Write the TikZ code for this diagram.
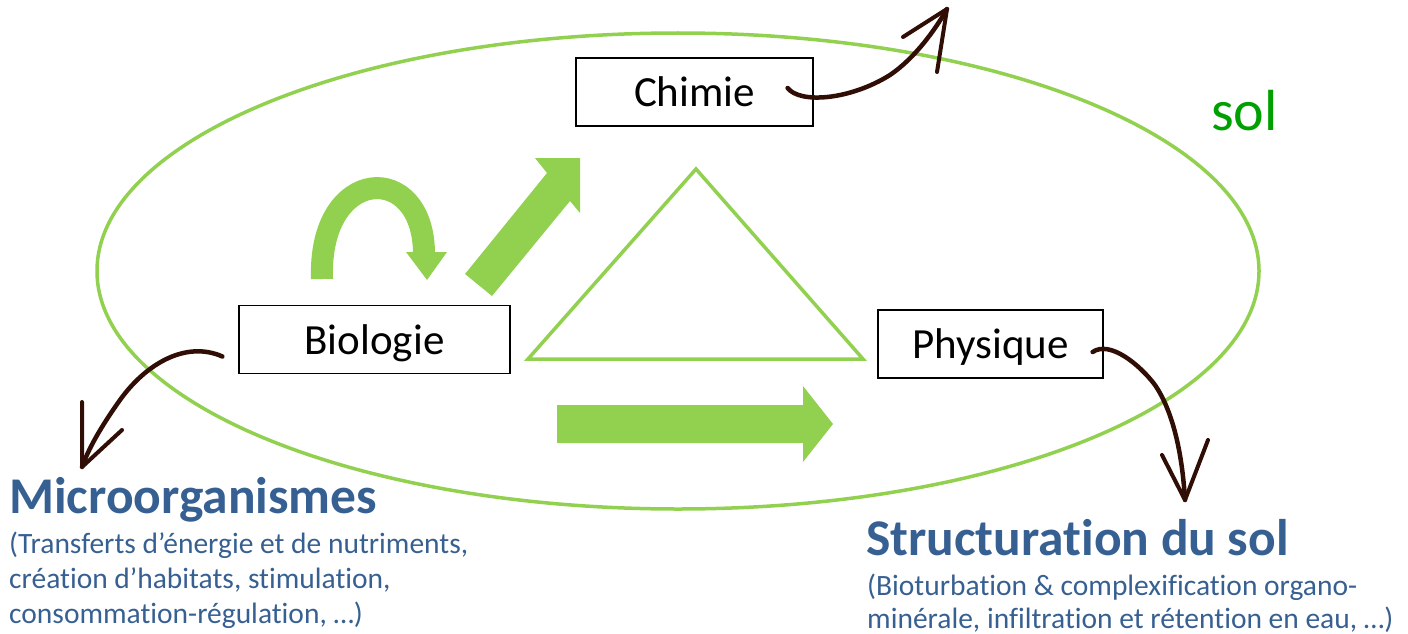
\documentclass[tikz,border=0pt]{standalone}
\usepackage{fontspec}
\setmainfont{Carlito}[Ligatures=NoCommon]
\usetikzlibrary{calc}

\begin{document}
\begin{tikzpicture}[x=1pt,y=-1pt,
		boite/.style={draw=black, line width=1.2pt, fill=white, minimum width=#1, minimum height=68pt, inner sep=0pt, text height=29pt, text depth=0pt, font=\fontsize{43pt}{43pt}\selectfont},
		titre/.style={inner sep=0pt, anchor=base west, text=bleutitre, font=\fontsize{51.5pt}{51.5pt}\bfseries\selectfont},
		soustitre/.style={inner sep=0pt, anchor=base west, align=left, text=bleutitre},
		fleche brune/.style={line width=4.5pt, brun, line cap=round, line join=round},
		trait vert/.style={line width=3.5pt, vertclair}]
	\definecolor{vertclair}{RGB}{146, 208, 80}
	\definecolor{vertsol}{RGB}{0, 160, 0}
	\definecolor{bleutitre}{RGB}{55, 96, 146}
	\definecolor{brun}{RGB}{48, 14, 6}
	\useasboundingbox (0,0) rectangle (1408,634);
	% le sol
	\draw [trait vert] (678,271) ellipse (581 and 238);
	\node[inner sep=0pt, anchor=base west, text=vertsol, font=\fontsize{58pt}{58pt}\selectfont] (sol) at (1211,130) {sol};
	% triangle central
	\coordinate (sommet) at (696,169);
	\coordinate (basegauche) at (528,359);
	\coordinate (basedroite) at (863,359);
	\draw [trait vert, line join=miter] (sommet) -- (basegauche) -- (basedroite) -- cycle;
	% fleches vertes
	\draw [line width=22pt, vertclair] (322,279) .. controls (318,165) and (424,160) .. (424,254);
	\fill [vertclair] (406,252) -- (447,252) -- (427,280) -- cycle;
	\fill [vertclair] (465,274) -- (547,173) -- (535,158) -- (580,158) -- (580,213) -- (570,201) -- (492,296) -- cycle;
	\fill [vertclair] (557,405) -- (803,405) -- (803,386) -- (833,424) -- (803,462) -- (803,443) -- (557,443) -- cycle;
	% les trois poles
	\node[boite=237pt] (chimie) at (694.5,92) {Chimie};
	\node[boite=271pt] (biologie) at (374.5,339.5) {Biologie};
	\node[boite=225pt] (physique) at (990.5,344) {Physique};
	% fleches brunes
	\coordinate (versair) at (947,9);
	\coordinate (versmicro) at (82,467);
	\coordinate (versstruct) at (1185,500);
	\draw [fleche brune] ($(chimie.east)+(-26,-4)$) .. controls (800,104) and (850,100) .. (890,75) .. controls (915,58) and (935,30) .. (versair);
	\draw [fleche brune, line width=4pt] ($(versair)+(-44,28)$) -- (versair) -- ($(versair)+(-10,63)$);
	\draw [fleche brune] ($(biologie.west)+(-16,17)$) .. controls (185,340) and (145,365) .. (120,400) .. controls (100,428) and (88,450) .. (versmicro);
	\draw [fleche brune, line width=4pt] ($(versmicro)+(0,-65)$) -- (versmicro) -- ($(versmicro)+(40,-37)$);
	\draw [fleche brune] ($(physique.east)+(-11,8)$) .. controls (1110,340) and (1140,365) .. (1155,385) .. controls (1172,410) and (1182,450) .. (versstruct);
	\draw [fleche brune, line width=4pt] ($(versstruct)+(-23,-45)$) -- (versstruct) -- ($(versstruct)+(23,-60)$);
	% textes
	\node[titre] (micro) at (9,513) {Microorganismes};
	\node[soustitre, font=\fontsize{29.5pt}{35pt}\selectfont] (microtxt) at (9,623) {(Transferts d’énergie et de nutriments,\\création d’habitats, stimulation,\\consommation-régulation, …)};
	\node[titre] (struct) at (866,555) {Structuration du sol};
	\node[soustitre, font=\fontsize{29.5pt}{33pt}\selectfont] (structtxt) at (867,628) {(Bioturbation \& complexification organo-\\minérale, infiltration et rétention en eau, …)};
\end{tikzpicture}
\end{document}
